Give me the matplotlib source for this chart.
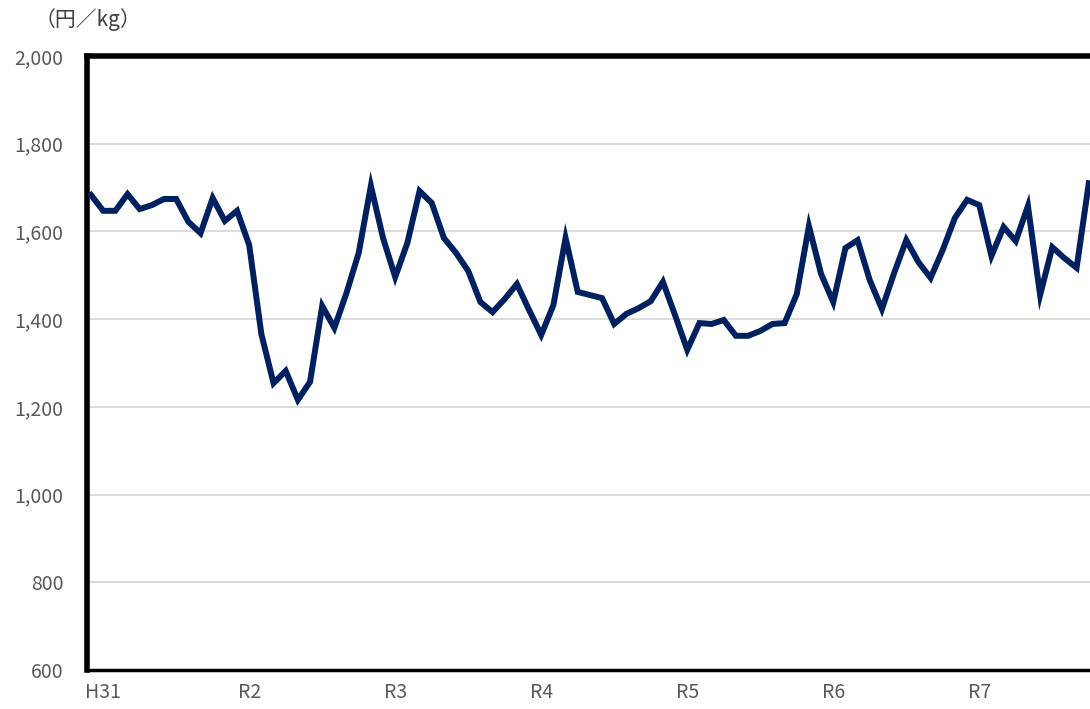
import matplotlib
matplotlib.use("Agg")
import matplotlib.pyplot as plt

# Monthly price (円/kg), Dec H30 .. Oct R7
prices = [
    1683, 1647, 1647, 1685, 1651, 1660, 1674, 1674, 1622, 1596, 1676, 1624,
    1647, 1569, 1366, 1254, 1282, 1216, 1257, 1430, 1380, 1460, 1551, 1704,
    1585, 1496, 1574, 1692, 1665, 1585, 1551, 1510, 1439, 1416, 1446, 1480,
    1421, 1364, 1432, 1585, 1462, 1455, 1448, 1389, 1412, 1425, 1441, 1485,
    1409, 1330, 1391, 1389, 1398, 1362, 1362, 1373, 1389, 1391, 1457, 1612,
    1503, 1439, 1562, 1580, 1489, 1423, 1505, 1580, 1530, 1494, 1558, 1631,
    1672, 1660, 1544, 1610, 1578, 1658, 1455, 1564, 1539, 1517, 1710,
]
year_labels = ["H31", "R2", "R3", "R4", "R5", "R6", "R7"]
label_index = [1, 13, 25, 37, 49, 61, 73]
y_ticks = [600, 800, 1000, 1200, 1400, 1600, 1800, 2000]

plt.rcParams['font.family'] = ['Noto Sans CJK JP', 'DejaVu Sans']

fig = plt.figure(figsize=(10.9, 7.09), dpi=100)
ax = fig.add_axes([87 / 1090, (709 - 670) / 709, 1 - 87 / 1090, (670 - 56) / 709])

x = list(range(len(prices)))
ax.plot(x, prices, color="#002060", lw=4.3, solid_joinstyle="miter", zorder=3,
        clip_on=False)

ax.set_ylim(600, 2000)
ax.set_xlim(-0.33, 82.1)
ax.set_yticks(y_ticks)
ax.set_yticklabels([f"{v:,}" for v in y_ticks])
ax.set_xticks(label_index)
ax.set_xticklabels(year_labels)
ax.grid(axis="y", color="#d9d9d9", lw=1.3, zorder=1)
ax.tick_params(axis="both", length=0, labelsize=14, colors="#595959")
ax.tick_params(axis="y", pad=17)
ax.tick_params(axis="x", pad=9)

for side in ["left", "top"]:
    ax.spines[side].set_linewidth(4)
    ax.spines[side].set_color("black")
ax.spines["bottom"].set_linewidth(2.5)
ax.spines["bottom"].set_color("black")
ax.spines["right"].set_visible(False)

fig.text(88 / 1090, 1 - 20 / 709, "（円／kg）", ha="center", va="center",
         fontsize=15, color="#404040")

fig.savefig("out.png", dpi=100)
